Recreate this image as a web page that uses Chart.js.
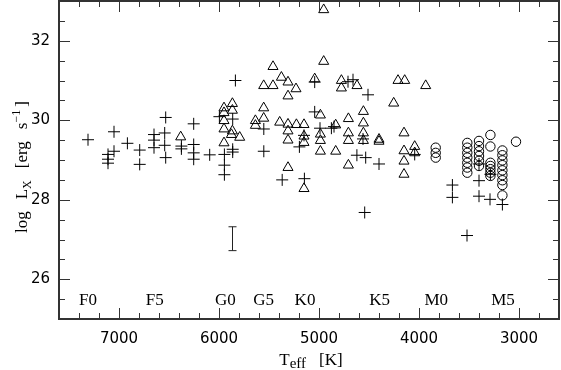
<!DOCTYPE html>
<html>
<head>
<meta charset="utf-8">
<script src="https://cdn.jsdelivr.net/npm/chart.js@4.4.0/dist/chart.umd.min.js"></script>
<style>
    body { margin: 0; background: #fff; }
    #wrap { width: 561px; height: 370px; position: relative; }
</style>
</head>
<body>
<div id="wrap"><canvas id="lxplot"></canvas></div>
<script>
// Crosses
const crossTeff = [7310, 7050, 7110, 7110, 7110, 7050, 6916, 6793, 6793, 6650, 6650, 6650, 6533, 6543, 6543, 6533,
    6376, 6376, 6253, 6253, 6253, 6253, 6093, 5996, 5946, 5946, 5946, 5863, 5863, 5863, 5836, 5552, 5552, 5368,
    5196, 5146, 5150, 5043, 5043, 4990, 4876, 4850, 4710, 4660, 4510, 4621, 4533, 4560, 4400, 4043, 4543,
    3666, 3666, 3400, 3400, 3400, 3286, 3290, 3166, 3520];
const crossLogLx = [29.51, 29.71, 29.14, 29.02, 28.92, 29.22, 29.42, 29.25, 28.89, 29.64, 29.50, 29.31, 30.07, 29.68, 29.37, 29.06,
    29.35, 29.28, 29.91, 29.39, 29.18, 29.02, 29.13, 30.09, 29.14, 28.87, 28.63, 30.03, 29.27, 29.20, 31.00, 29.78, 29.22, 28.50,
    29.33, 28.53, 29.62, 30.96, 30.21, 29.80, 29.80, 29.84, 30.97, 31.02, 30.64, 29.12, 29.06, 29.53, 28.90, 29.14, 27.68,
    28.37, 28.06, 28.48, 28.09, 28.90, 28.64, 28.01, 27.88, 27.10];

// Triangles
const triTeff = [6383, 5950, 5950, 5950, 5950, 5950, 5866, 5866, 5866, 5876, 5793, 5636, 5636, 5553, 5553, 5393,
    5310, 5310, 5310, 5310, 5310, 5226, 5150, 5150, 5150, 5150, 5460, 5376, 5553, 5460, 5310, 5230,
    4953, 4953, 5043, 4776, 4620, 4776, 4253, 4210, 4143, 3933, 4986, 4986, 4986, 4986, 4833, 4833,
    4706, 4706, 4706, 4706, 4556, 4556, 4556, 4556, 4400, 4400, 4150, 4150, 4150, 4150, 4043, 4043];
const triLogLx = [29.58, 30.31, 30.19, 29.99, 29.78, 29.43, 30.42, 30.25, 29.73, 29.64, 29.57, 29.99, 29.87, 30.31, 30.05, 29.95,
    29.90, 29.73, 29.50, 28.81, 30.61, 29.89, 29.89, 29.60, 29.44, 28.28, 31.35, 31.08, 30.87, 30.87, 30.96, 30.79,
    32.78, 31.48, 31.04, 31.00, 30.87, 30.81, 30.43, 31.00, 31.00, 30.87, 30.13, 29.65, 29.49, 29.22, 29.88, 29.22,
    30.04, 29.68, 29.49, 28.87, 30.22, 29.93, 29.68, 29.49, 29.52, 29.47, 29.68, 29.23, 28.97, 28.64, 29.34, 29.18];

// Circles
const circTeff = [3833, 3833, 3833, 3517, 3517, 3517, 3517, 3517, 3517, 3517, 3400, 3400, 3400, 3400, 3400, 3400,
    3286, 3286, 3286, 3286, 3286, 3286, 3286, 3166, 3166, 3166, 3166, 3166, 3166, 3166, 3166, 3166, 3030];
const circLogLx = [29.31, 29.18, 29.06, 29.43, 29.31, 29.18, 29.06, 28.93, 28.81, 28.68, 29.48, 29.35, 29.22, 29.10, 28.98, 28.85,
    29.63, 29.34, 28.93, 28.85, 28.77, 28.68, 28.60, 29.24, 29.12, 28.99, 28.87, 28.74, 28.62, 28.49, 28.37, 28.11, 29.46];

// typical error bar
const errTeff = [5870];
const errLow = [26.72];
const errHigh = [27.32];

// spectral types along the bottom
const specLabels = ['F0', 'F5', 'G0', 'G5', 'K0', 'K5', 'M0', 'M5'];
const specTeff = [7310, 6643, 5936, 5553, 5140, 4393, 3827, 3160];
const specLogLx = 25.5;

const xTickValues = [7000, 6000, 5000, 4000, 3000];
const yTickValues = [26, 28, 30, 32];

function toPoints(xs, ys) {
    return xs.map((x, i) => ({ x: x, y: ys[i] }));
}

// draws a label made of pieces (subscripts / superscripts), left to right from x
function drawPieces(ctx, pieces, x, y) {
    let pos = x;
    pieces.forEach(p => {
        if (p.gap) { pos += p.gap; return; }
        ctx.font = p.size + 'px "Liberation Serif"';
        ctx.fillText(p.t, pos, y + (p.dy || 0));
        pos += ctx.measureText(p.t).width;
    });
    return pos - x;
}

const frameTicks = {
    id: 'frameTicks',
    afterDraw(chart) {
        const ctx = chart.ctx;
        const a = chart.chartArea;
        const xs = chart.scales.x;
        const ys = chart.scales.y;
        ctx.save();

        // inward ticks on all four sides
        ctx.strokeStyle = '#333';
        ctx.lineWidth = 1;
        ctx.beginPath();
        for (let v = 2800; v <= 7400; v += 200) {
            const px = Math.round(xs.getPixelForValue(v)) + 0.5;
            const len = v % 1000 === 0 ? 11 : 6;
            ctx.moveTo(px, a.bottom); ctx.lineTo(px, a.bottom - len);
            ctx.moveTo(px, a.top); ctx.lineTo(px, a.top + len);
        }
        for (let v = 25.5; v < 33; v += 0.5) {
            const py = Math.round(ys.getPixelForValue(v)) + 0.5;
            const len = v % 2 === 0 ? 11 : 6;
            ctx.moveTo(a.left, py); ctx.lineTo(a.left + len, py);
            ctx.moveTo(a.right, py); ctx.lineTo(a.right - len, py);
        }
        ctx.stroke();

        ctx.lineWidth = 2;
        ctx.strokeRect(a.left, a.top, a.right - a.left, a.bottom - a.top);

        // error bar
        ctx.strokeStyle = '#222';
        ctx.lineWidth = 1;
        ctx.beginPath();
        errTeff.forEach((t, i) => {
            const px = Math.round(xs.getPixelForValue(t)) + 0.5;
            const y1 = ys.getPixelForValue(errHigh[i]);
            const y2 = ys.getPixelForValue(errLow[i]);
            ctx.moveTo(px, y1); ctx.lineTo(px, y2);
            ctx.moveTo(px - 4, y1); ctx.lineTo(px + 4, y1);
            ctx.moveTo(px - 4, y2); ctx.lineTo(px + 4, y2);
        });
        ctx.stroke();

        // spectral type labels
        ctx.fillStyle = '#000';
        ctx.font = '17px "Liberation Serif"';
        ctx.textAlign = 'center';
        ctx.textBaseline = 'alphabetic';
        specLabels.forEach((s, i) => {
            ctx.fillText(s, xs.getPixelForValue(specTeff[i]), ys.getPixelForValue(specLogLx) + 5.5);
        });

        // axis titles
        ctx.textAlign = 'left';
        const xTitle = [
            { t: 'T', size: 17 },
            { t: 'eff', size: 15, dy: 3 },
            { gap: 13 },
            { t: '[K]', size: 17 }
        ];
        const w = drawPieces(ctx, xTitle, -1000, -1000);
        drawPieces(ctx, xTitle, 311 - w / 2, 365);

        ctx.translate(26.5, 233);
        ctx.rotate(-Math.PI / 2);
        drawPieces(ctx, [
            { t: 'log', size: 17 },
            { gap: 12 },
            { t: 'L', size: 17 },
            { t: 'X', size: 12, dy: 4 },
            { gap: 12 },
            { t: '[erg', size: 17 },
            { gap: 12 },
            { t: 's', size: 17 },
            { t: '\u22121', size: 12, dy: -7 },
            { gap: 3 },
            { t: ']', size: 17 }
        ], 0, 0);

        ctx.restore();
    }
};

const marker = { borderColor: '#000', backgroundColor: 'rgba(0,0,0,0)', borderWidth: 1 };

const data = {
    datasets: [
        Object.assign({ label: 'crosses', data: toPoints(crossTeff, crossLogLx), pointStyle: 'cross', pointRadius: 6 }, marker),
        Object.assign({ label: 'triangles', data: toPoints(triTeff, triLogLx), pointStyle: 'triangle', pointRadius: 5.8 }, marker),
        Object.assign({ label: 'circles', data: toPoints(circTeff, circLogLx), pointStyle: 'circle', pointRadius: 4.7 }, marker)
    ]
};

const tickFont = { family: '"DejaVu Sans"', size: 15 };

const options = {
    responsive: true,
    maintainAspectRatio: false,
    animation: false,
    layout: { autoPadding: false, padding: { left: 0, right: 2, top: 1, bottom: 0 } },
    scales: {
        x: {
            type: 'linear',
            reverse: true,
            min: 2600,
            max: 7600,
            grid: { display: false, drawTicks: false },
            border: { display: false },
            afterBuildTicks(scale) { scale.ticks = xTickValues.map(v => ({ value: v })); },
            afterFit(scale) {
                scale.height = 51;
                scale.paddingLeft = 0;
                scale.paddingRight = 0;
            },
            ticks: { font: tickFont, color: '#000', padding: 11, maxRotation: 0, callback: v => String(v) }
        },
        y: {
            min: 25,
            max: 33,
            grid: { display: false, drawTicks: false },
            border: { display: false },
            afterBuildTicks(scale) { scale.ticks = yTickValues.map(v => ({ value: v })); },
            afterFit(scale) {
                scale.width = 59;
                scale.paddingTop = 0;
                scale.paddingBottom = 0;
            },
            ticks: { font: tickFont, color: '#000', padding: 9, callback: v => String(v) }
        }
    },
    plugins: {
        legend: { display: false },
        tooltip: { enabled: false }
    }
};

const ctx = document.getElementById('lxplot').getContext('2d');
window.myChart = new Chart(ctx, { type: 'scatter', data: data, options: options, plugins: [frameTicks] });
</script>
</body>
</html>
